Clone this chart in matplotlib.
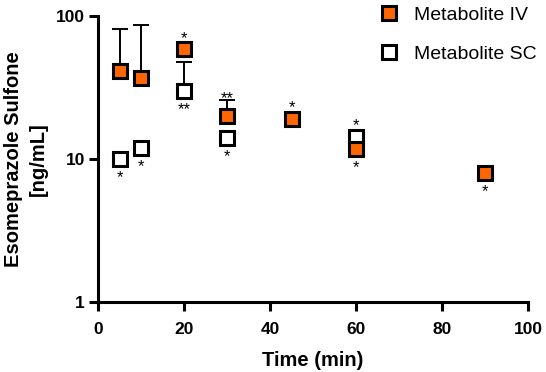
import matplotlib.pyplot as plt
import matplotlib.ticker as mticker

plt.rcParams['font.family'] = ['Liberation Sans', 'DejaVu Sans']

# Metabolite IV
iv_time = [5, 10, 20, 30, 45, 60, 90]
iv_conc = [41, 37, 58.5, 20, 19, 11.7, 8.0]
iv_upper = [81, 87, None, 26, None, None, None]
iv_marks = ['', '', '*', '**', '*', '*', '*']
iv_side = ['', '', 'up', 'up', 'up', 'down', 'down']

# Metabolite SC
sc_time = [5, 10, 20, 30, 60]
sc_conc = [10, 12, 30, 14, 14.3]
sc_upper = [None, None, 48, None, None]
sc_marks = ['*', '*', '**', '*', '*']
sc_side = ['down', 'down', 'down', 'down', 'up']

orange = '#FF6600'

fig = plt.figure(figsize=(5.46, 3.72), dpi=100)
ax = fig.add_axes([0.1795, 0.188, 0.788, 0.769])


def draw_errors(times, conc, upper):
    for t, c, u in zip(times, conc, upper):
        if u is None:
            continue
        ax.errorbar([t], [c], yerr=[[0], [u - c]], fmt='none', ecolor='black',
                    elinewidth=1.4, capsize=6, capthick=1.4, zorder=2)


def draw_marks(times, conc, upper, marks, side):
    for t, c, u, m, s in zip(times, conc, upper, marks, side):
        if not m:
            continue
        if s == 'up' and u is not None:
            # stars sit just over the error bar cap
            y, dy = u, 1
        elif s == 'up':
            y, dy = c, 8
        else:
            y, dy = c, -13.5
        ax.annotate(m, (t, y), xytext=(0, dy), textcoords='offset points',
                    ha='center', va='center', fontsize=12)


draw_errors(iv_time, iv_conc, iv_upper)
draw_errors(sc_time, sc_conc, sc_upper)

ax.plot(sc_time, sc_conc, 's', ms=9.5, mfc='white', mec='black', mew=2.2,
        ls='none', label='Metabolite SC', zorder=3)
ax.plot(iv_time, iv_conc, 's', ms=9.5, mfc=orange, mec='black', mew=2.2,
        ls='none', label='Metabolite IV', zorder=4)

draw_marks(iv_time, iv_conc, iv_upper, iv_marks, iv_side)
draw_marks(sc_time, sc_conc, sc_upper, sc_marks, sc_side)

ax.set_yscale('log')
ax.set_ylim(1, 100)
ax.set_xlim(0, 100)
ax.set_xticks([0, 20, 40, 60, 80, 100])
ax.yaxis.set_major_locator(mticker.FixedLocator([1, 10, 100]))
ax.yaxis.set_major_formatter(mticker.FixedFormatter(['1', '10', '100']))
ax.yaxis.set_minor_locator(mticker.NullLocator())

for side in ['top', 'right']:
    ax.spines[side].set_visible(False)
for side in ['left', 'bottom']:
    ax.spines[side].set_linewidth(2.2)
ax.tick_params(width=2.2, length=6.5, labelsize=12.5, pad=3)
ax.tick_params(axis='x', pad=8)
for lab in ax.get_xticklabels() + ax.get_yticklabels():
    lab.set_fontweight('bold')

ax.set_xlabel('Time (min)', fontsize=14.5, fontweight='bold', labelpad=10)
ax.set_ylabel('Esomeprazole Sulfone\n[ng/mL]', fontsize=14.5,
              fontweight='bold', linespacing=1.35)
ax.yaxis.set_label_coords(-0.117, 0.5)

handles, labels = ax.get_legend_handles_labels()
ax.legend(handles[::-1], labels[::-1], loc='upper left',
          bbox_to_anchor=(0.612, 1.096), frameon=False, fontsize=14,
          labelspacing=1.1, handletextpad=0.8, handlelength=1.0,
          markerscale=1.0)

fig.savefig('out.png', dpi=100)
